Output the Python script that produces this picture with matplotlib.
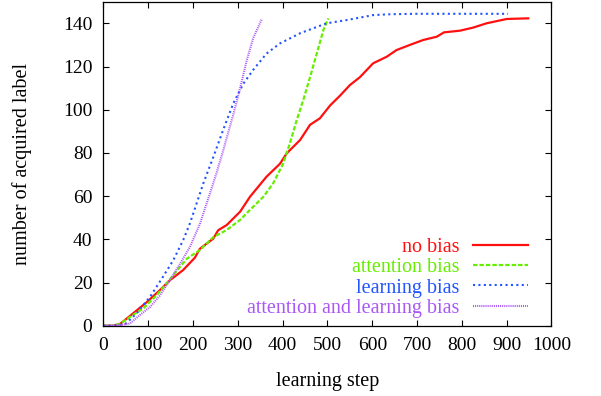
import matplotlib
matplotlib.use("Agg")
import matplotlib.pyplot as plt

# series (learning step, number of acquired labels)
no_bias_x = [0, 20, 37, 66, 96, 126, 148, 178, 204, 215, 245, 256, 275, 305, 327, 364, 394, 409,
             439, 461, 483, 506, 528, 550, 572, 602, 632, 654, 684, 714, 744, 760, 796, 825,
             855, 900, 948]
no_bias_y = [0, 0, 0.8, 5.7, 10.8, 16.5, 21, 25.8, 31.5, 35.6, 40.3, 44.2, 46.6, 52.8, 59.7, 69,
             75, 79.8, 86, 93, 96, 102, 106.5, 111.4, 115, 121.5, 124.5, 127.6, 130, 132.3,
             133.8, 135.8, 136.6, 138, 140, 142, 142.3]

attention_x = [0, 20, 37, 66, 89, 119, 150, 186, 215, 245, 275, 305, 327, 357, 379, 401, 416,
               431, 446, 461, 476, 491, 502]
attention_y = [0, 0, 0.8, 5, 8, 14.2, 22, 31, 35, 41, 44.3, 49, 53.6, 59.7, 66, 75, 84.4, 95,
               104.5, 115, 126, 137, 142.3]

learning_x = [0, 30, 50, 74, 104, 133, 156, 178, 193, 208, 223, 245, 267, 290, 312, 334, 364,
              394, 439, 498, 543, 602, 640, 700, 903]
learning_y = [0, 0, 1, 5.7, 13.4, 22.7, 30.4, 39.7, 47.4, 56.7, 66, 78, 90.6, 103, 112, 118.4,
              126, 130.7, 135.4, 140, 141.5, 143.8, 144.2, 144.4, 144.4]

both_x = [0, 30, 59, 81, 104, 126, 148, 171, 193, 215, 238, 252, 267, 290, 305, 320, 334, 353]
both_y = [0, 0, 1, 4.9, 8.7, 14, 21, 28.7, 36.5, 47, 61.5, 70.5, 81, 98, 110, 123, 133, 141.8]

x_ticks = [0, 100, 200, 300, 400, 500, 600, 700, 800, 900, 1000]
y_ticks = [0, 20, 40, 60, 80, 100, 120, 140]

plt.rcParams['font.family'] = ['Liberation Serif', 'DejaVu Serif']
plt.rcParams['font.size'] = 14.5

fig = plt.figure(figsize=(6.01, 3.96), dpi=100)
ax = fig.add_axes([0.1722, 0.1775, 0.7454, 0.8182])

ax.plot(no_bias_x, no_bias_y, color='#ff1010', lw=1.6, label='no bias')
ax.plot(attention_x, attention_y, color='#66ee00', lw=1.6, dashes=(2.0, 0.9),
        label='attention bias')
ax.plot(learning_x, learning_y, color='#2255ff', lw=1.5, dashes=(1.0, 1.6),
        label='learning bias')
ax.plot(both_x, both_y, color='#aa58f5', lw=1.5, dashes=(0.5, 0.5),
        label='attention and learning bias')

ax.set_xlim(0, 1000)
ax.set_ylim(0, 150)
ax.set_xticks(x_ticks)
ax.set_yticks(y_ticks)
ax.tick_params(direction='in', top=True, right=True, length=4, width=0.8, labelsize=14)
ax.tick_params(axis='x', pad=8)
ax.tick_params(axis='y', pad=8)
for s in ax.spines.values():
    s.set_linewidth(0.9)

ax.set_xlabel('learning step', labelpad=13)
ax.set_ylabel('number of acquired label', labelpad=22)

leg = ax.legend(loc='lower right', bbox_to_anchor=(0.948, 0.025), frameon=False,
                markerfirst=False, labelcolor='linecolor', handlelength=2.74,
                handletextpad=0.68, labelspacing=0.05, borderpad=0, borderaxespad=0)
for t in leg.get_texts():
    t.set_ha('right')

fig.savefig('out.png', dpi=100)
